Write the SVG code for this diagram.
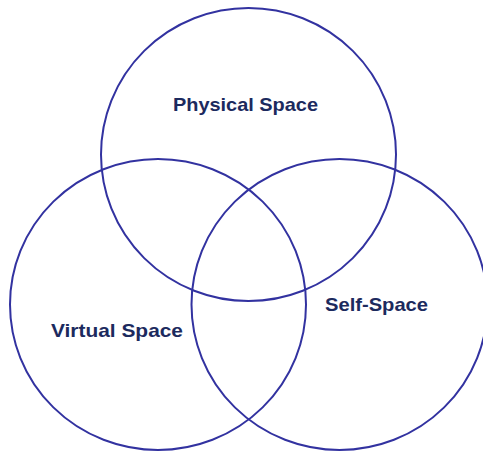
<svg xmlns="http://www.w3.org/2000/svg" width="483" height="452" viewBox="0 0 483 452">
<style>
.c{fill:none;stroke:#3232a0;stroke-width:2}
.t{font-family:"Liberation Sans",Arial,sans-serif;font-weight:bold;font-size:19px;fill:#1c2a5e}
</style>
<rect width="483" height="452" fill="#ffffff"/>
<g id="physical">
<ellipse class="c" cx="248.5" cy="154.5" rx="147.5" ry="146.5"/>
<text class="t" x="173" y="111" textLength="145" lengthAdjust="spacingAndGlyphs">Physical Space</text>
</g>
<g id="virtual">
<ellipse class="c" cx="158" cy="304.5" rx="148" ry="145.5"/>
<text class="t" x="51" y="337" textLength="132" lengthAdjust="spacingAndGlyphs">Virtual Space</text>
</g>
<g id="self">
<ellipse class="c" cx="339.5" cy="304.5" rx="148" ry="145.5"/>
<text class="t" x="325" y="311" textLength="103" lengthAdjust="spacingAndGlyphs">Self-Space</text>
</g>
<g id="connectors"/>
</svg>
